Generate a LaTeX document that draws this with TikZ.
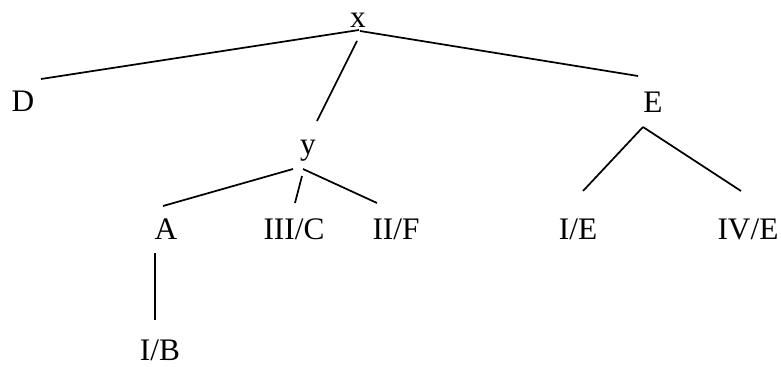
\documentclass[tikz,border=0pt]{standalone}
\usepackage{fontspec}
\setmainfont{Liberation Serif}
\begin{document}
\begin{tikzpicture}[x=0.75pt,y=-0.75pt,
  lbl/.style={anchor=base,inner sep=0pt,font=\fontsize{23.5}{28}\selectfont},
  edge/.style={line width=1.3pt}]
\useasboundingbox (0,0) rectangle (781,367);
\node[lbl] (x) at (358,28) {x};
\node[lbl] (D) at (23,112) {D};
\node[lbl] (y) at (308,155) {y};
\node[lbl] (E) at (653,113) {E};
\node[lbl] (A) at (166,239) {A};
\node[lbl] (C) at (294,239) {III/C};
\node[lbl] (F) at (396,239) {II/F};
\node[lbl] (IB) at (160,360) {I/B};
\node[lbl] (IE) at (578,239) {I/E};
\node[lbl] (IVE) at (748,239) {IV/E};
\draw[edge] ([shift={(1,2)}]x.base) -- ([shift={(18,-33)}]D.base);
\draw[edge] ([shift={(-1,13)}]x.base) -- ([shift={(9,-34)}]y.base);
\draw[edge] ([shift={(2,3)}]x.base) -- ([shift={(-15,-37)}]E.base);
\draw[edge] ([shift={(-15,14)}]y.base) -- ([shift={(-3,-33)}]A.base);
\draw[edge] ([shift={(-6,21)}]y.base) -- ([shift={(1,-36)}]C.base);
\draw[edge] ([shift={(-5,14)}]y.base) -- ([shift={(-19,-36)}]F.base);
\draw[edge] ([shift={(-11,14)}]A.base) -- ([shift={(-5,-40)}]IB.base);
\draw[edge] ([shift={(-10,14)}]E.base) -- ([shift={(5,-48)}]IE.base);
\draw[edge] ([shift={(-10,14)}]E.base) -- ([shift={(-7,-48)}]IVE.base);
\end{tikzpicture}
\end{document}
